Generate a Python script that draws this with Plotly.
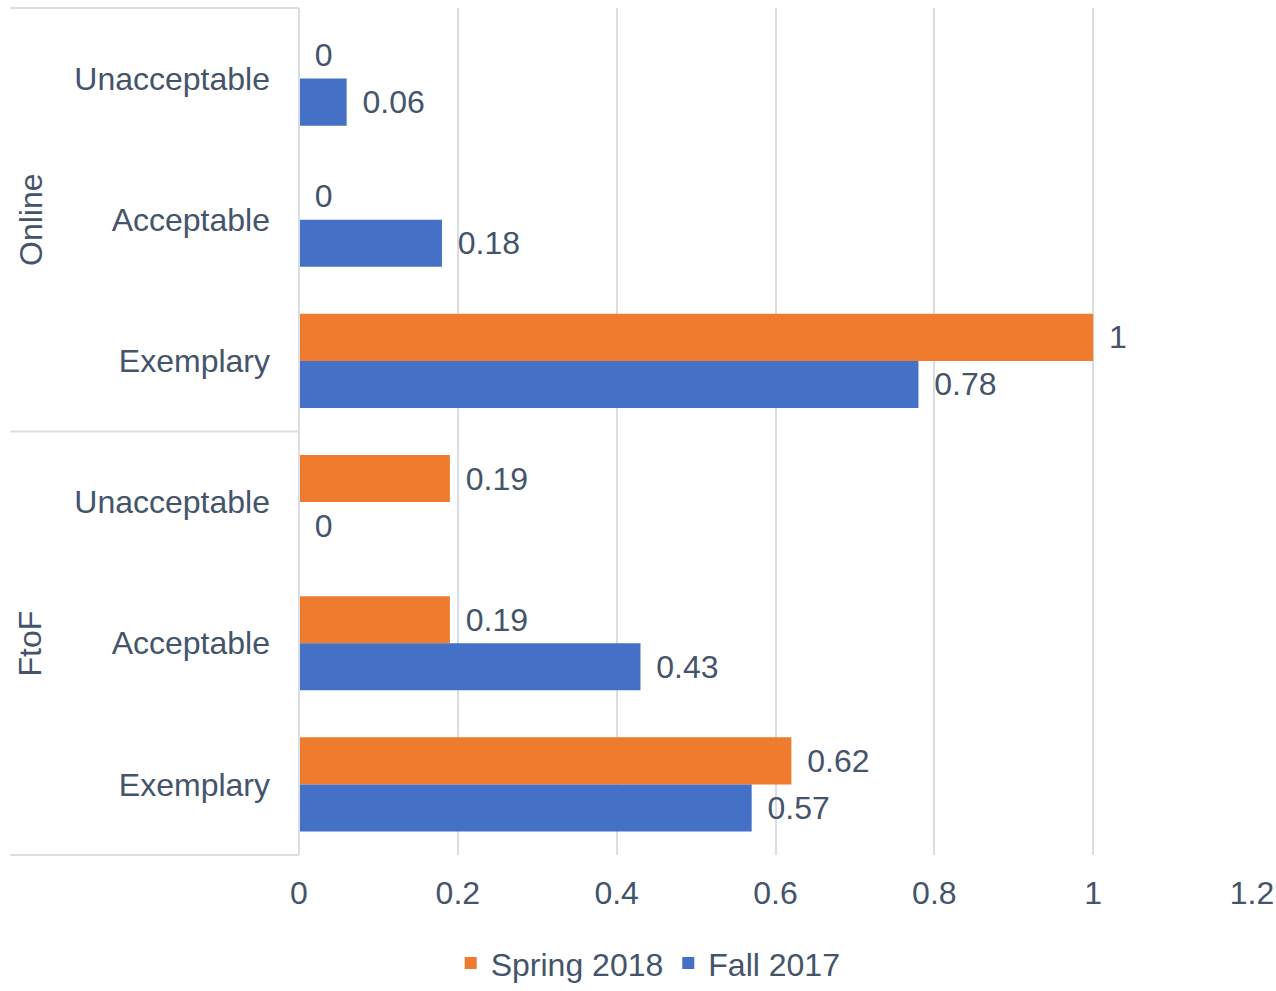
import plotly.graph_objects as go

groups = ["Online", "Online", "Online", "FtoF", "FtoF", "FtoF"]
levels = ["Unacceptable", "Acceptable", "Exemplary", "Unacceptable", "Acceptable", "Exemplary"]
spring_2018 = [0, 0, 1, 0.19, 0.19, 0.62]
fall_2017 = [0.06, 0.18, 0.78, 0, 0.43, 0.57]
x_ticks = [0, 0.2, 0.4, 0.6, 0.8, 1, 1.2]

cats = [f"{g}|{l}" for g, l in zip(groups, levels)]
TXT = "#44546A"
FONT = "Liberation Sans, Arial, sans-serif"
FS = 32

def fmt(v):
    return "\u2009\u2009" + f"{v:g}"

fig = go.Figure()
fig.add_trace(go.Bar(
    name="Spring 2018", y=cats, x=spring_2018, orientation="h",
    marker=dict(color="#EE7B2E", line=dict(width=0)),
    text=[fmt(v) for v in spring_2018], textposition="outside",
    textfont=dict(size=FS, color=TXT, family=FONT), constraintext="none",
    cliponaxis=False,
))
fig.add_trace(go.Bar(
    name="Fall 2017", y=cats, x=fall_2017, orientation="h",
    marker=dict(color="#4470C6", line=dict(width=0)),
    text=[fmt(v) for v in fall_2017], textposition="outside",
    textfont=dict(size=FS, color=TXT, family=FONT), constraintext="none",
    cliponaxis=False,
))

shapes = []
line_col = "#D9DDE4"
for yy in [0, 0.5, 1]:
    shapes.append(dict(type="line", xref="paper", yref="paper", x0=-0.303, x1=0, y0=yy, y1=yy,
                       line=dict(color=line_col, width=2), layer="below"))
shapes.append(dict(type="line", xref="paper", yref="paper", x0=0, x1=0, y0=0, y1=1,
                   line=dict(color=line_col, width=2)))

annotations = []
for i, g in enumerate(["Online", "FtoF"]):
    annotations.append(dict(text=g, xref="paper", yref="paper", x=-0.282, y=0.75 - 0.5 * i,
                            textangle=-90, showarrow=False, xanchor="center", yanchor="middle",
                            font=dict(size=FS, color=TXT, family=FONT)))

fig.update_layout(
    width=1276, height=991,
    margin=dict(l=299, r=24, t=8, b=136, autoexpand=False),
    paper_bgcolor="white", plot_bgcolor="white",
    barmode="group", bargap=1/3, bargroupgap=0,
    font=dict(family=FONT, color=TXT, size=FS),
    xaxis=dict(range=[0, 1.2], tickvals=x_ticks, ticktext=[f"{t:g}" for t in x_ticks],
               showgrid=True, gridcolor="#D9DDE4", gridwidth=2, zeroline=False,
               showline=False, ticks="", ticklabelstandoff=16, automargin=False,
               tickfont=dict(size=FS, color=TXT, family=FONT)),
    yaxis=dict(type="category", categoryorder="array", categoryarray=cats,
               autorange="reversed", tickvals=cats, ticktext=levels,
               showgrid=False, zeroline=False, showline=False, ticks="",
               ticklabelstandoff=28, automargin=False,
               tickfont=dict(size=FS, color=TXT, family=FONT)),
    legend=dict(orientation="h", xref="container", yref="container",
                x=0.508, xanchor="center", y=0.028, yanchor="middle",
                font=dict(size=FS, color=TXT, family=FONT), traceorder="normal",
                itemwidth=30),
    shapes=shapes, annotations=annotations, showlegend=True,
)

fig.write_html("out.html")
